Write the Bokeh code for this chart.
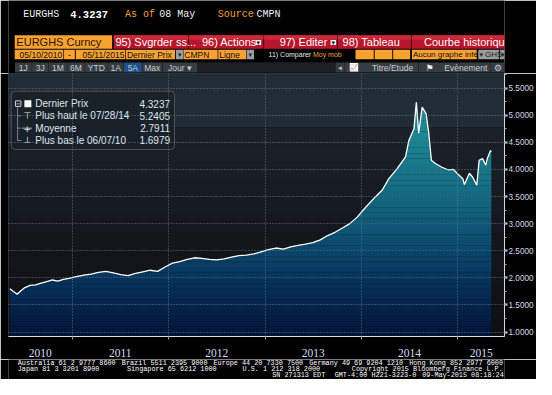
import numpy as np
from bokeh.plotting import figure
from bokeh.layouts import column
from bokeh.models import (Range1d, BoxAnnotation, Label, FixedTicker, SingleIntervalTicker,
                          DatetimeTickFormatter, NumeralTickFormatter)
from bokeh.embed import file_html
from bokeh.resources import INLINE

# ---------------- data ----------------
ticker_name = "EURGHS"
as_of = "08 May"
source = "CMPN"
average_price = 2.7911

dates = [
    "2010-05-10", "2010-05-20", "2010-06-07", "2010-06-21", "2010-07-06", "2010-07-26",
    "2010-08-16", "2010-09-06", "2010-09-27", "2010-10-18", "2010-11-08", "2010-11-29",
    "2010-12-20", "2011-01-17", "2011-02-14", "2011-03-14", "2011-04-11", "2011-05-09",
    "2011-06-06", "2011-07-04", "2011-08-01", "2011-08-29", "2011-09-26", "2011-10-24",
    "2011-11-21", "2011-12-19", "2012-01-16", "2012-02-13", "2012-03-12", "2012-04-09",
    "2012-05-07", "2012-06-04", "2012-07-02", "2012-07-30", "2012-08-27", "2012-09-24",
    "2012-10-22", "2012-11-19", "2012-12-17", "2013-01-14", "2013-02-11", "2013-03-11",
    "2013-04-08", "2013-05-06", "2013-06-03", "2013-07-01", "2013-07-29", "2013-08-26",
    "2013-09-23", "2013-10-21", "2013-11-18", "2013-12-16", "2014-01-13", "2014-02-18",
    "2014-03-21", "2014-04-15", "2014-05-17", "2014-06-17", "2014-06-30", "2014-07-19",
    "2014-07-28", "2014-08-06", "2014-08-19", "2014-09-03", "2014-09-13", "2014-09-23",
    "2014-10-08", "2014-11-02", "2014-11-27", "2014-12-16", "2015-01-04", "2015-01-20",
    "2015-01-26", "2015-02-14", "2015-02-26", "2015-03-11", "2015-03-14", "2015-03-23",
    "2015-04-05", "2015-04-17", "2015-04-23", "2015-05-05", "2015-05-08",
]
prices = [
    1.80, 1.76, 1.6979, 1.76, 1.82, 1.86,
    1.87, 1.90, 1.93, 1.96, 1.94, 1.97,
    1.99, 2.02, 2.05, 2.07, 2.10, 2.12,
    2.09, 2.06, 2.04, 2.08, 2.11, 2.14,
    2.12, 2.20, 2.27, 2.30, 2.34, 2.37,
    2.36, 2.34, 2.33, 2.35, 2.38, 2.41,
    2.42, 2.44, 2.48, 2.52, 2.55, 2.53,
    2.57, 2.60, 2.62, 2.65, 2.70, 2.78,
    2.84, 2.92, 3.00, 3.12, 3.28, 3.47,
    3.62, 3.83, 4.02, 4.23, 4.54, 4.75,
    5.2405, 4.67, 5.15, 5.03, 4.67, 4.17,
    4.11, 4.04, 3.99, 4.00, 3.90, 3.83,
    3.72, 3.93, 3.86, 3.74, 3.71, 4.17,
    4.20, 4.08, 4.20, 4.35, 4.3237,
]
year_starts = ["2011-01-01", "2012-01-01", "2013-01-01", "2014-01-01", "2015-01-01"]

# ---------------- helpers ----------------
DAY_MS = 86400000.0
PX_PER_DAY = 0.26557
T2011 = float(np.datetime64("2011-01-01", "ms").astype("int64"))
FRAME_L, FRAME_R, FRAME_T, FRAME_B = 8, 507, 73, 337
MAIN_BOTTOM = 359


def dx(px):
    return T2011 + (px - 72.0) / PX_PER_DAY * DAY_MS


def vy(py):
    return 4.0 - (py - 169.3) / 54.4


def hexmix(c1, c2, t):
    a = [int(c1[i:i + 2], 16) for i in (1, 3, 5)]
    b = [int(c2[i:i + 2], 16) for i in (1, 3, 5)]
    return "#%02x%02x%02x" % tuple(int(round(a[k] + (b[k] - a[k]) * t)) for k in range(3))


def ramp(stops, v):
    for (v0, c0), (v1, c1) in zip(stops[:-1], stops[1:]):
        if v <= v1:
            return hexmix(c0, c1, max(0.0, min(1.0, (v - v0) / (v1 - v0))))
    return stops[-1][1]


def lab(fig, x, y, text, color, size, font="Liberation Sans", align="left", style="normal"):
    fig.add_layout(Label(x=x, y=y, text=text, text_color=color, text_font_size=size,
                         text_font=font, text_align=align, text_baseline="middle",
                         text_font_style=style))


def box(fig, l, r, t, b, color, line=None, level="annotation", alpha=1.0, radius=0):
    fig.add_layout(BoxAnnotation(left=l, right=r, top=t, bottom=b, fill_color=color,
                                 fill_alpha=alpha, line_color=line, line_alpha=1.0 if line else 0,
                                 level=level, border_radius=radius))


def chrome_fig(y0, y1):
    f = figure(width=536, height=y1 - y0, x_range=Range1d(0, 536), y_range=Range1d(y1, y0),
               output_backend="svg", toolbar_location=None, min_border=0,
               x_axis_location=None, y_axis_location=None, title=None,
               background_fill_color="black", border_fill_color="black", outline_line_color=None)
    f.grid.visible = False
    return f


xs = np.array(dates, dtype="datetime64[ms]").astype("int64").astype(float)
ys = np.array(prices, dtype=float)

# ---------------- header ----------------
hdr = chrome_fig(0, FRAME_T)
ORANGE = "#f9a232"
MONO = "Liberation Mono"
lab(hdr, 16, 14, ticker_name, "#f0f0f0", "10px", MONO)
lab(hdr, 66.7, 14, "%.4f" % prices[-1], "#ffffff", "10.5px", MONO, style="bold")
lab(hdr, 126, 14, "As of", "#f0a030", "10px", MONO)
lab(hdr, 163, 14, as_of, "#f0f0f0", "10px", MONO)
lab(hdr, 226, 14, "Source", "#f0a030", "10px", MONO)
lab(hdr, 268, 14, source, "#f0f0f0", "10px", MONO)

# row 2
box(hdr, 6.7, 112, 34.7, 48.3, ORANGE)
lab(hdr, 8.5, 41.8, ticker_name + " Curncy", "#2a1500", "11px")
for l, r in [(113.7, 194), (194.7, 275.5), (276.2, 355), (355.7, 435), (435.7, 540)]:
    box(hdr, l, r, 34.7, 48.3, "#b8142a")
    box(hdr, l, r, 34.7, 39, "#cc2a3c")
lab(hdr, 115.5, 41.8, "95) Svgrder ss...", "#ffffff", "11px")
lab(hdr, 209, 41.8, "96) Actions", "#ffffff", "11px")
lab(hdr, 293, 41.8, "97) Editer", "#ffffff", "11px")
lab(hdr, 361, 41.8, "98) Tableau", "#ffffff", "11px")
lab(hdr, 449, 41.8, "Courbe historique", "#ffffff", "11px")
for l in (267, 348):
    box(hdr, l, l + 6, 39.5, 44.5, "#f4f4f4")
    lab(hdr, l + 3, 42.2, "▾", "#202020", "7px", "DejaVu Sans", align="center")

# row 3
for l, r in [(6.7, 59.3), (60, 71.7), (72.7, 126), (126.7, 180), (189.3, 226), (226.7, 256.7),
             (375, 394.7), (395.7, 414.7), (415.7, 434), (436, 506)]:
    box(hdr, l, r, 49.3, 58.7, ORANGE)
for l, r in [(181, 189), (257.3, 265.3), (507.7, 530), (531, 540)]:
    box(hdr, l, r, 49.3, 58.7, "#9a9da0")
lab(hdr, 12, 54.2, "05/10/2010", "#111111", "8.5px")
lab(hdr, 65.8, 54.2, "-", "#111111", "8.5px", align="center")
lab(hdr, 80, 54.2, "05/11/2015", "#111111", "8.5px")
lab(hdr, 128, 54.2, "Dernier Prix", "#111111", "8.5px")
lab(hdr, 190, 54.2, "CMPN", "#111111", "8.5px")
lab(hdr, 227.7, 54.2, "Ligne", "#111111", "8.5px")
for cx in (185, 261.3, 511, 534):
    lab(hdr, cx, 54.2, "▾", "#202020", "7px", "DejaVu Sans", align="center")
lab(hdr, 281, 54.2, "11) Comparer", "#e8e8e8", "7px")
lab(hdr, 329, 54.2, "Moy mob", "#f0a030", "7px")
lab(hdr, 437, 54.2, "Aucun graphe infé", "#111111", "8px")
lab(hdr, 515, 54.2, "GHS", "#202020", "8px")

# row 4
box(hdr, 7, 540, 61.7, 72.3, "#1c2024")
btns = [(7, 25, "1J"), (25.7, 43, "3J"), (43.7, 63, "1M"), (63.7, 82, "6M"), (82.7, 107, "YTD"),
        (107.7, 124, "1A"), (124.7, 144, "5A"), (144.7, 166, "Max"), (166.7, 204, "Jour ▾")]
for l, r, t in btns:
    box(hdr, l, r, 62.3, 71.7, "#1d4f8c" if t == "5A" else "#373c42")
    lab(hdr, (l + r) / 2, 67.2, t, "#c4ccd4", "8.5px", align="center")
for l, r in [(353.7, 362.7), (363.3, 443), (443.7, 520.7), (521.3, 540)]:
    box(hdr, l, r, 62.3, 71.7, "#373c42")
lab(hdr, 358.2, 67.2, "◂", "#c4ccd4", "7px", "DejaVu Sans", align="center")
lab(hdr, 373, 67.2, "📈", "#e0e0e0", "8px", "DejaVu Sans", align="center")
lab(hdr, 392.7, 67.2, "Titre/Etude", "#c4ccd4", "8.5px")
lab(hdr, 455, 67.2, "⚑", "#f0f0f0", "9px", "DejaVu Sans", align="center")
lab(hdr, 471, 67.2, "Evènement", "#c4ccd4", "8.5px")
lab(hdr, 529, 67.2, "⚙", "#c4ccd4", "9px", "DejaVu Sans", align="center")

# ---------------- main chart ----------------
p = figure(width=536, height=MAIN_BOTTOM - FRAME_T, x_axis_type="datetime",
           y_axis_location="right",
           x_range=Range1d(dx(FRAME_L), dx(FRAME_R)), y_range=Range1d(vy(FRAME_B), vy(FRAME_T)),
           output_backend="svg", toolbar_location=None, title=None,
           min_border_left=FRAME_L, min_border_top=0, min_border_right=536 - FRAME_R,
           min_border_bottom=MAIN_BOTTOM - FRAME_B,
           background_fill_color="#141a21", border_fill_color="black",
           outline_line_color="#33383e")

# background bands
box(p, None, None, None, vy(127), "#212c36", level="image")
bg_edges = np.linspace(vy(127), vy(FRAME_B), 13)
for i in range(12):
    box(p, None, None, bg_edges[i], bg_edges[i + 1],
        hexmix("#1a2129", "#0e0f12", i / 11.0), level="image")

# gradient area under the curve (band-wise, band crossings inserted on segments)
bounds = np.round(np.arange(0.8, 5.41, 0.1), 2)
rx, ry = [xs[0]], [ys[0]]
for i in range(len(xs) - 1):
    x0, y0, x1, y1 = xs[i], ys[i], xs[i + 1], ys[i + 1]
    if y1 != y0:
        ts = sorted((b - y0) / (y1 - y0) for b in bounds if min(y0, y1) < b < max(y0, y1))
        for t in ts:
            rx.append(x0 + t * (x1 - x0))
            ry.append(y0 + t * (y1 - y0))
    rx.append(x1)
    ry.append(y1)
rx = np.array(rx)
ry = np.array(ry)
fill_stops = [(0.8, "#021234"), (1.5, "#04244c"), (2.0, "#06345c"), (2.5, "#0a466b"),
              (3.0, "#0f5877"), (3.5, "#136881"), (4.0, "#177689"), (4.5, "#1b8291"),
              (5.4, "#238f9c")]
for lo, hi in zip(bounds[:-1], bounds[1:]):
    p.varea(x=rx, y1=lo, y2=np.clip(ry, lo, hi), fill_color=ramp(fill_stops, (lo + hi) / 2),
            fill_alpha=1.0)

p.line(xs, ys, line_color="#ffffff", line_width=1.3)

# axes
jan1 = [float(np.datetime64(d, "ms").astype("int64")) for d in year_starts]
edges = [p.x_range.start] + jan1 + [p.x_range.end]
mids = [(a + b) / 2 for a, b in zip(edges[:-1], edges[1:])]
p.xaxis.ticker = FixedTicker(ticks=mids, minor_ticks=jan1)
fmt = "%Y"
p.xaxis.formatter = DatetimeTickFormatter(microseconds=fmt, milliseconds=fmt, seconds=fmt,
                                          minsec=fmt, minutes=fmt, hourmin=fmt, hours=fmt,
                                          days=fmt, months=fmt, years=fmt)
p.xaxis.major_tick_out = 0
p.xaxis.major_tick_in = 0
p.xaxis.minor_tick_out = 3
p.xaxis.minor_tick_in = 0
p.xaxis.minor_tick_line_color = "#a0a0a0"
p.xaxis.axis_line_color = "#e0e0e0"
p.xaxis.major_label_text_color = "#d4def2"
p.xaxis.major_label_text_font = "Liberation Serif"
p.xaxis.major_label_text_font_size = "11.5px"
p.xaxis.major_label_standoff = 9

p.yaxis.ticker = SingleIntervalTicker(interval=0.5, num_minor_ticks=2)
p.yaxis.formatter = NumeralTickFormatter(format="0.0000")
p.yaxis.axis_line_color = "#d8d8d8"
p.yaxis.major_tick_line_color = "#e0e0e0"
p.yaxis.major_tick_line_width = 2
p.yaxis.major_tick_out = 3
p.yaxis.major_tick_in = 0
p.yaxis.minor_tick_out = 2
p.yaxis.minor_tick_in = 0
p.yaxis.minor_tick_line_color = "#a8a8a8"
p.yaxis.major_label_text_color = "#d4dce6"
p.yaxis.major_label_text_font = "Liberation Sans"
p.yaxis.major_label_text_font_size = "8.2px"
p.yaxis.major_label_standoff = 1

p.xgrid.ticker = FixedTicker(ticks=jan1)
for g in (p.xgrid, p.ygrid):
    g.grid_line_color = "#7a848e"
    g.grid_line_dash = "1 2"
    g.grid_line_alpha = 0.8
    g.level = "overlay"

# legend panel
box(p, dx(10.7), dx(175), vy(90.7), vy(149.3), "#1a2129", line="#4c545c", alpha=0.95, radius=4)
row_y = [103.3, 115.6, 127.8, 140.1]
imax = int(np.argmax(ys))
imin = int(np.argmin(ys))


def mdy(d):
    return d[5:7] + "/" + d[8:10] + "/" + d[2:4]


rows = [("Dernier Prix", "%.4f" % prices[-1]),
        ("Plus haut le " + mdy(dates[imax]), "%.4f" % prices[imax]),
        ("Moyenne", "%.4f" % average_price),
        ("Plus bas le " + mdy(dates[imin]), "%.4f" % prices[imin])]
TXT = "#dfe7ef"
for (name, val), ry_ in zip(rows, row_y):
    lab(p, dx(35), vy(ry_), name, TXT, "10px")
    lab(p, dx(170.5), vy(ry_), val, TXT, "10px", align="right")
# tree connectors and icons
box(p, dx(16.8), dx(17.6), vy(106), vy(140.5), "#8c98a4")
for ry_ in row_y[1:]:
    box(p, dx(16.8), dx(21), vy(ry_ - 0.4), vy(ry_ + 0.4), "#8c98a4")
box(p, dx(15), dx(20.5), vy(100.5), vy(106), "#1a2129", line="#c8d0d8")
box(p, dx(16), dx(19.5), vy(103.0), vy(103.8), "#c8d0d8")
box(p, dx(24), dx(31), vy(99.8), vy(106.8), "#ffffff")
lab(p, dx(27), vy(115.6), "⊤", TXT, "9px", "DejaVu Sans", align="center")
box(p, dx(22), dx(31.5), vy(127.5), vy(128.3), TXT)
lab(p, dx(27), vy(127.8), "+", TXT, "9px", "DejaVu Sans", align="center")
lab(p, dx(27), vy(140.1), "⊥", TXT, "9px", "DejaVu Sans", align="center")

# last price tag on the axis
p.add_layout(Label(x=dx(511), y=prices[-1], text="%.4f" % prices[-1], text_color="#0a0a0a",
                   text_font="Liberation Sans", text_font_size="8.2px", text_baseline="middle",
                   background_fill_color="#ffffff", background_fill_alpha=1.0))

# ---------------- footer ----------------
ftr = chrome_fig(MAIN_BOTTOM, 379)
FS = "6.8px"
W = "#ffffff"
for x, t in [(10, "Australia 61 2 9777 8600"), (122.5, "Brazil 5511 2395 9000"),
             (221.5, "Europe 44 20 7330 7500"), (325, "Germany 49 69 9204 1210"),
             (433, "Hong Kong 852 2977 6000")]:
    lab(ftr, x, 362.8, t, W, FS, MONO)
for x, t in [(10, "Japan 81 3 3201 8900"), (128, "Singapore 65 6212 1000"),
             (253, "U.S. 1 212 318 2000"), (371, "Copyright 2015 Bloomberg Finance L.P.")]:
    lab(ftr, x, 368.8, t, W, FS, MONO)
for x, t in [(285, "SN 271313 EDT"), (352.5, "GMT-4:00 H221-3223-0"),
             (447, "09-May-2015 08:18:24")]:
    lab(ftr, x, 374.6, t, W, FS, MONO)

layout = column(hdr, p, ftr, spacing=0)
open("out.html", "w").write(file_html(layout, INLINE))
